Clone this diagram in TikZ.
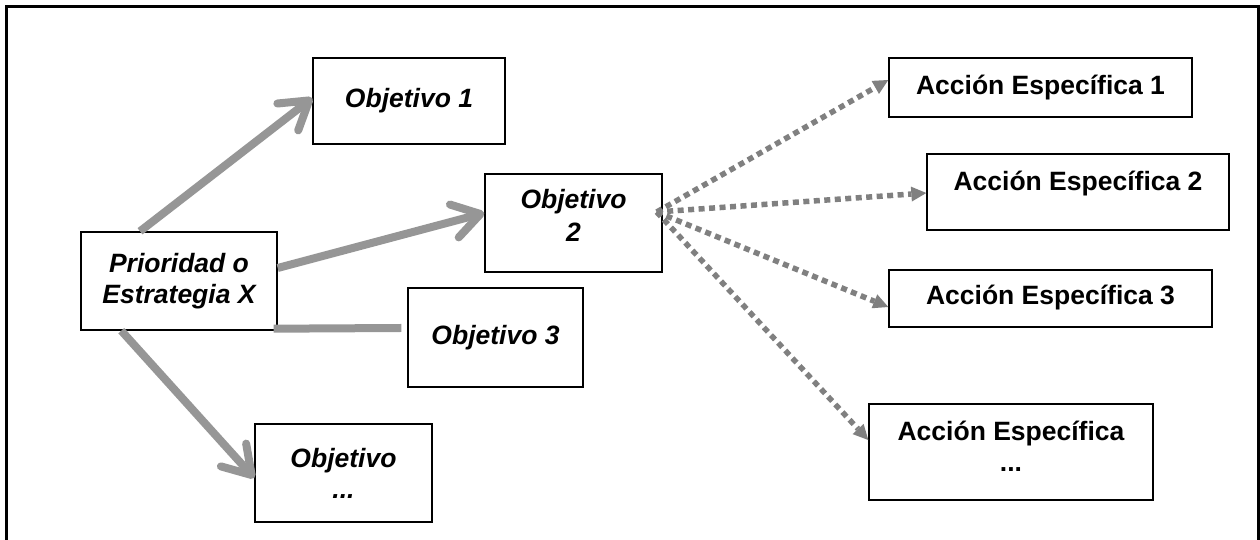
\documentclass[tikz,border=0pt]{standalone}
\usepackage{fontspec}
\setmainfont{Liberation Sans}
\usetikzlibrary{arrows.meta,calc}
\definecolor{bargray}{RGB}{150,150,150}
\definecolor{dotgray}{RGB}{128,128,128}
\newcommand{\liftup}[2]{\raisebox{0pt}[\height][\dimexpr\depth+#1\relax]{#2}}
\begin{document}
\begin{tikzpicture}[x=1pt,y=1pt,
  box/.style={draw=black, line width=1.4pt, inner sep=0pt, align=center},
  obj/.style={box, font=\fontsize{26.5}{31}\selectfont\bfseries\itshape},
  acc/.style={box, font=\fontsize{26.5}{31}\selectfont\bfseries},
  bigarrow/.style={draw=bargray, line width=8pt, -{Straight Barb[length=27pt,width=34pt,round]}},
  bar/.style={draw=bargray, line width=8pt},
  dotarrow/.style={draw=dotgray, line width=5.5pt, dash pattern=on 6pt off 4.5pt, -{Triangle[length=15pt,width=15pt,line width=0pt]}},
  frame/.style={draw=black, line width=3pt}
]
\useasboundingbox (0,0) rectangle (1260,540);
\draw[frame] (6,0) -- (6,533) -- (1258.5,533) -- (1258.5,0);

\node[obj, minimum width=196pt, minimum height=98pt] (p) at (179,259) {Prioridad o\\Estrategia X};
\node[obj, minimum width=192pt, minimum height=86pt] (o1) at (409,439) {Objetivo 1};
\node[obj, minimum width=177pt, minimum height=98pt] (o2) at (573.5,317) {\liftup{8pt}{\begin{tabular}{@{}c@{}}Objetivo\\[2pt]2\end{tabular}}};
\node[obj, minimum width=175pt, minimum height=99pt] (o3) at (495.5,202.5) {Objetivo 3};
\node[obj, minimum width=177pt, minimum height=98pt] (o4) at (343.5,67) {Objetivo\\...};

\node[acc, minimum width=303pt, minimum height=59pt] (a1) at (1040.5,452.5) {Acción Específica 1};
\node[acc, minimum width=302pt, minimum height=76pt] (a2) at (1078,348) {\liftup{16pt}{Acción Específica 2}};
\node[acc, minimum width=323pt, minimum height=57pt] (a3) at (1050.5,241.5) {\liftup{2pt}{Acción Específica 3}};
\node[acc, minimum width=284pt, minimum height=96pt] (a4) at (1011,88) {\liftup{4pt}{\begin{tabular}{@{}c@{}}Acción Específica\\...\end{tabular}}};

\draw[bigarrow] ([xshift=-39pt]p.north) -- ([yshift=3pt]o1.west);
\draw[bigarrow] ([yshift=13pt]p.east) -- ([yshift=10pt]o2.west);
\draw[bar] ([shift={(-4pt,2pt)}]p.south east) -- ([shift={(-6pt,9.5pt)}]o3.west);
\draw[bigarrow] ([xshift=41pt]p.south west) -- ([yshift=-5pt]o4.west);

\coordinate (src) at ([shift={(-6pt,11pt)}]o2.east);
\draw[dotarrow] (src) -- ([yshift=7.5pt]a1.west);
\draw[dotarrow] (src) -- ([yshift=-1pt]a2.west);
\draw[dotarrow] (src) -- ([yshift=-8.5pt]a3.west);
\draw[dotarrow] (src) -- ([yshift=12pt]a4.west);
\end{tikzpicture}
\end{document}
